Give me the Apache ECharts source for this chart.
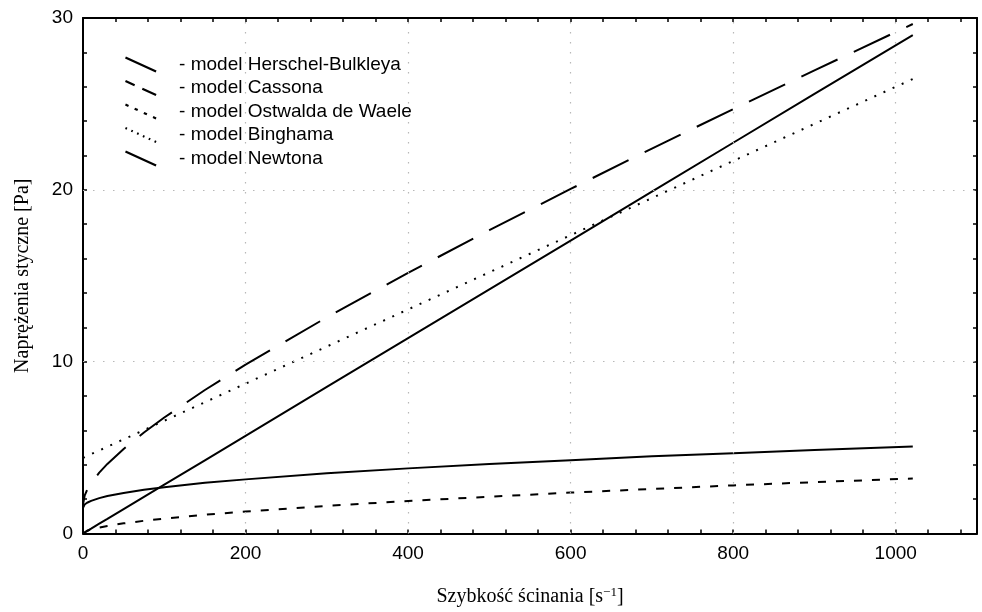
<!DOCTYPE html>
<html>
<head>
<meta charset="utf-8">
<script src="https://cdn.jsdelivr.net/npm/echarts@6/dist/echarts.min.js"></script>
<style>
  html, body { margin: 0; padding: 0; background: #fff; }
  #chart { width: 982px; height: 612px; }
</style>
</head>
<body>
<div id="chart"></div>
<script>
// shear rate [1/s]
const shear = [0, 2, 5, 10, 20, 30, 50, 75, 100, 150, 200, 300, 400, 500, 600, 700, 800, 900, 1021];

// shear stress [Pa]
const herschel = [1.5, 1.69, 1.79, 1.9, 2.06, 2.18, 2.36, 2.54, 2.69, 2.95, 3.15, 3.5, 3.79, 4.05, 4.27, 4.49, 4.67, 4.86, 5.06];
const casson = [1.69, 2.2, 2.53, 2.93, 3.54, 4.05, 4.92, 5.88, 6.75, 8.35, 9.83, 12.58, 15.17, 17.65, 20.05, 22.4, 24.7, 26.95, 29.65];
const ostwald = [0, 0.1, 0.16, 0.24, 0.35, 0.44, 0.59, 0.74, 0.87, 1.09, 1.28, 1.61, 1.89, 2.14, 2.38, 2.59, 2.8, 2.99, 3.2];
const bingham = [4.4, 4.44, 4.51, 4.62, 4.83, 5.05, 5.48, 6.02, 6.56, 7.64, 8.72, 10.88, 13.04, 15.2, 17.36, 19.52, 21.68, 23.84, 26.45];
const newton = [0, 0.06, 0.14, 0.28, 0.57, 0.85, 1.42, 2.13, 2.84, 4.26, 5.68, 8.53, 11.37, 14.21, 17.05, 19.89, 22.74, 25.58, 29.0];

const names = ['model Herschel-Bulkleya', 'model Cassona', 'model Ostwalda de Waele', 'model Binghama', 'model Newtona'];

const xLabels = [0, 200, 400, 600, 800, 1000];
const yLabels = [0, 10, 20, 30];
const gridX = [200, 400, 600, 800, 1000];
const gridY = [10, 20];

function pairs(ys) {
    return shear.map(function (x, i) { return [x, ys[i]]; });
}

// legend icon: slanted strokes drawn as thin parallelograms
function slant(parts) {
    const w = 35, h = 16, ox = -0.52, oy = 1.14;
    let d = '';
    parts.forEach(function (p) {
        const x0 = w * p[0], y0 = h * p[0], x1 = w * p[1], y1 = h * p[1];
        d += 'M' + (x0 - ox) + ',' + (y0 - oy) + 'L' + (x1 - ox) + ',' + (y1 - oy) +
             'L' + (x1 + ox) + ',' + (y1 + oy) + 'L' + (x0 + ox) + ',' + (y0 + oy) + 'Z';
    });
    return 'path://' + d;
}

const icons = [
    slant([[0, 1]]),
    slant([[0, 0.3], [0.55, 1]]),
    slant([[0, 0.1], [0.3, 0.4], [0.6, 0.7], [0.9, 1]]),
    slant([[0, 0.05], [0.19, 0.24], [0.38, 0.43], [0.57, 0.62], [0.76, 0.81], [0.95, 1]]),
    slant([[0, 1]])
];

const sans = "'Liberation Sans', Arial, sans-serif";
const serif = "'Liberation Serif', 'Times New Roman', serif";

function axisBase(show) {
    return {
        axisLine: { show: true, onZero: false, lineStyle: { color: '#000', width: 2 } },
        axisTick: { show: true, inside: true, length: 4, lineStyle: { color: '#000', width: 1.5 } },
        splitLine: { show: false },
        axisLabel: { show: show }
    };
}

const chart = echarts.init(document.getElementById('chart'));

const option = {
    animation: false,
    backgroundColor: '#fff',
    grid: { left: 83, right: 5, top: 18, bottom: 77 },
    legend: {
        orient: 'vertical',
        left: 120,
        top: 50,
        itemWidth: 35,
        itemHeight: 16,
        itemGap: 4.5,
        formatter: '   - {name}',
        textStyle: { fontFamily: sans, fontSize: 19, color: '#000' },
        data: names.map(function (n, i) { return { name: n, icon: icons[i] }; })
    },
    xAxis: [
        Object.assign(axisBase(true), {
            type: 'value', min: 0, max: 1100, interval: 40, position: 'bottom',
            name: '{t|Szybkość ścinania [s}{s|−1}{t|]}',
            nameLocation: 'middle', nameGap: 53,
            nameTextStyle: {
                rich: {
                    t: { fontFamily: serif, fontSize: 20, color: '#000' },
                    s: { fontFamily: serif, fontSize: 13, color: '#000', verticalAlign: 'top', padding: [0, 0, 8, 0] }
                }
            },
            axisLabel: {
                show: true, margin: 11, fontFamily: sans, fontSize: 19, color: '#000',
                showMaxLabel: false,
                formatter: function (v) { return xLabels.indexOf(v) >= 0 ? String(v) : ''; }
            }
        }),
        Object.assign(axisBase(false), {
            type: 'value', min: 0, max: 1100, interval: 40, position: 'top'
        })
    ],
    yAxis: [
        Object.assign(axisBase(true), {
            type: 'value', min: 0, max: 30, interval: 2, position: 'left',
            name: 'Naprężenia styczne [Pa]',
            nameLocation: 'middle', nameGap: 50,
            nameTextStyle: { fontFamily: serif, fontSize: 20, color: '#000' },
            axisLabel: {
                show: true, margin: 10, fontFamily: sans, fontSize: 19, color: '#000',
                formatter: function (v) { return yLabels.indexOf(v) >= 0 ? String(v) : ''; }
            }
        }),
        Object.assign(axisBase(false), {
            type: 'value', min: 0, max: 30, interval: 2, position: 'right'
        })
    ],
    series: [
        {
            type: 'line', name: 'grid', data: [], z: 1, silent: true,
            markLine: {
                silent: true, symbol: ['none', 'none'], animation: false,
                label: { show: false },
                lineStyle: { color: '#b8b8b8', width: 1.2, type: [1.5, 8.5] },
                data: gridX.map(function (v) { return { xAxis: v }; })
                    .concat(gridY.map(function (v) { return { yAxis: v }; }))
            }
        },
        {
            type: 'line', name: names[0], data: pairs(herschel), showSymbol: false,
            color: '#000', lineStyle: { color: '#000', width: 2 }
        },
        {
            type: 'line', name: names[1], data: pairs(casson), showSymbol: false,
            color: '#000', lineStyle: { color: '#000', width: 2, type: [40, 18], dashOffset: 25 }
        },
        {
            type: 'line', name: names[2], data: pairs(ostwald), showSymbol: false,
            color: '#000', lineStyle: { color: '#000', width: 2, type: [8, 10] }
        },
        {
            type: 'line', name: names[3], data: pairs(bingham), showSymbol: false,
            color: '#000', lineStyle: { color: '#000', width: 2, type: [2, 8] }
        },
        {
            type: 'line', name: names[4], data: pairs(newton), showSymbol: false,
            color: '#000', lineStyle: { color: '#000', width: 2 }
        }
    ]
};

chart.setOption(option);
</script>
</body>
</html>
